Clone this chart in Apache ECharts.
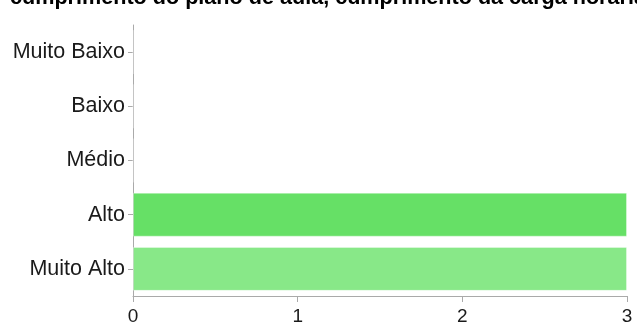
<!DOCTYPE html>
<html><head><meta charset="utf-8">
<script src="https://cdn.jsdelivr.net/npm/echarts@6/dist/echarts.min.js"></script>
<style>html,body{margin:0;padding:0;background:#fff}#c{width:637px;height:326px}</style>
</head><body><div id="c"></div>
<script>
var titleText = "cumprimento do plano de aula, cumprimento da carga horária";
var categories = ["Muito Baixo", "Baixo", "Médio", "Alto", "Muito Alto"];
var values = [0, 0, 0, 3, 3];
var barColors = ["#66e066", "#66e066", "#66e066", "#66e066", "#88e888"];
var xTicks = [0, 1, 2, 3];

var FONT = '"Liberation Sans", Arial, Helvetica, sans-serif';
var chart = echarts.init(document.getElementById('c'), null, {renderer: 'canvas'});
chart.setOption({
  animation: false,
  graphic: [{
    type: 'text', left: 10, top: -13,
    style: {text: titleText, font: 'bold 21.6px ' + FONT, fill: '#000'}
  }],
  grid: {left: 133, right: 10, top: 25, bottom: 28, containLabel: false},
  xAxis: {
    type: 'value', min: xTicks[0], max: xTicks[xTicks.length - 1], interval: 1,
    axisLine: {show: true, lineStyle: {color: '#aaaaaa', width: 1}},
    axisTick: {show: true, length: 6, lineStyle: {color: '#aaaaaa'}},
    splitLine: {show: false},
    axisLabel: {color: '#1a1a1a', fontSize: 19, fontFamily: FONT, margin: 11}
  },
  yAxis: {
    type: 'category', inverse: true, data: categories,
    axisLine: {show: true, lineStyle: {color: '#aaaaaa', width: 1}},
    axisTick: {show: true, length: 5, alignWithLabel: true, lineStyle: {color: '#aaaaaa'}},
    axisLabel: {color: '#1a1a1a', fontSize: 21.5, fontFamily: FONT, margin: 8}
  },
  series: [{
    type: 'bar', barCategoryGap: '19%',
    data: values.map(function (v, i) {
      return {value: v, itemStyle: {color: barColors[i], borderColor: 'rgba(255,255,255,0.35)', borderWidth: 1}};
    })
  }]
});
</script></body></html>
